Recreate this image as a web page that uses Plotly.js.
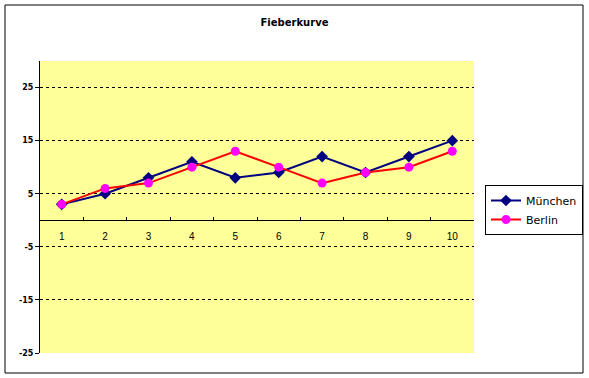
<!DOCTYPE html>
<html>
<head>
<meta charset="utf-8">
<script src="https://cdn.plot.ly/plotly-3.0.1.min.js"></script>
<style>html,body{margin:0;padding:0;background:#fff;}#chart{width:589px;height:378px;}</style>
</head>
<body>
<div id="chart"></div>
<script>
var categories = ['1','2','3','4','5','6','7','8','9','10'];
var muenchen = [3, 5, 8, 11, 8, 9, 12, 9, 12, 15];
var berlin = [3, 6, 7, 10, 13, 10, 7, 9, 10, 13];
var yTicks = [-25, -15, -5, 5, 15, 25];

var W = 589, H = 378;
var mL = 40, mR = 115, mT = 61, mB = 25;
var pw = W - mL - mR, ph = H - mT - mB;
function px(x){ return (x - mL) / pw; }
function py(y){ return (H - mB - y) / ph; }

var traces = [
  {x: categories, y: muenchen, name: 'München', type: 'scatter', mode: 'lines+markers',
   line: {color: '#000080', width: 2}, marker: {symbol: 'diamond', size: 9, color: '#000080'}},
  {x: categories, y: berlin, name: 'Berlin', type: 'scatter', mode: 'lines+markers',
   line: {color: '#FF0000', width: 2}, marker: {symbol: 'circle', size: 9, color: '#FF00FF'}}
];

var layout = {
  width: W, height: H,
  margin: {l: mL, r: mR, t: mT, b: mB, pad: 0, autoexpand: false},
  paper_bgcolor: '#FFFFFF',
  plot_bgcolor: '#FFFF99',
  showlegend: true,
  hovermode: false,
  title: {text: 'Fieberkurve', x: 0.5, xref: 'container', y: 1 - 22 / H, yref: 'container', yanchor: 'middle',
          font: {family: 'DejaVu Sans', size: 10, color: '#000', weight: 'bold'}},
  xaxis: {
    type: 'category', range: [-0.5, 9.5], anchor: 'free', position: 25 / 55,
    tickson: 'boundaries', ticks: 'inside', ticklen: 3, tickcolor: '#000', tickwidth: 1,
    showline: true, linecolor: '#000', linewidth: 1, showgrid: false, zeroline: false,
    ticklabelstandoff: 7,
    tickfont: {family: 'Liberation Sans', size: 10, color: '#000'}
  },
  yaxis: {
    range: [-25, 30], tickmode: 'array', tickvals: yTicks, ticktext: yTicks.map(String),
    ticks: 'outside', ticklen: 4, tickcolor: '#000', showline: true, linecolor: '#000', linewidth: 1,
    showgrid: true, gridcolor: '#000', gridwidth: 1, griddash: '3px,3px', zeroline: false,
    tickfont: {family: 'DejaVu Sans', size: 8, color: '#000', weight: 'bold'}
  },
  legend: {
    x: px(485), y: py(185), xanchor: 'left', yanchor: 'top',
    bgcolor: '#FFFFFF', bordercolor: '#000', borderwidth: 1,
    font: {family: 'DejaVu Sans', size: 11, color: '#000'}
  },
  shapes: [
    {type: 'rect', xref: 'paper', yref: 'paper', x0: px(5), x1: px(583), y0: py(373), y1: py(5),
     line: {color: '#000', width: 1}, fillcolor: 'rgba(0,0,0,0)', layer: 'above'}
  ]
};

Plotly.newPlot('chart', traces, layout, {displayModeBar: false, staticPlot: true});
</script>
</body>
</html>
